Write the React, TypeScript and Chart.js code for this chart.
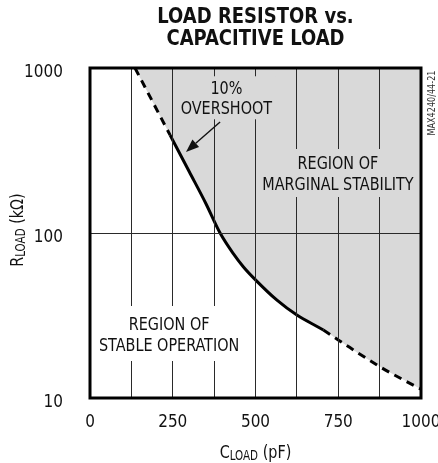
import { useEffect, useRef } from 'react';
import { Chart, registerables } from 'chart.js';

Chart.register(...registerables);

// ---- data ----
const titleLines = ['LOAD RESISTOR vs.', 'CAPACITIVE LOAD'];

// curve: 10% overshoot boundary (C in pF, R in kΩ)
const upperDashedC = [136, 190, 242];
const upperDashedR = [1000, 620, 392];
const solidC = [242, 300, 350, 393, 433, 463, 500, 564, 625, 705];
const solidR = [392, 235, 151, 100, 75, 62.5, 52, 39.3, 31.8, 25.8];
const lowerDashedC = [705, 750, 875, 1000];
const lowerDashedR = [25.8, 22.5, 15.5, 11.3];

const xTickValues = [0, 250, 500, 750, 1000];
const xTickLabels = ['0', '250', '500', '750', '1000'];
const yTickValues = [10, 100, 1000];
const yTickLabels = ['10', '100', '1000'];
const xGridStep = 125;

const overshootLines = ['10%', 'OVERSHOOT'];
const marginalLines = ['REGION OF', 'MARGINAL STABILITY'];
const stableLines = ['REGION OF', 'STABLE OPERATION'];
const sideLabel = 'MAX4240/44-21';

// ---- styles / positions ----
const FONT = '"Liberation Sans Narrow", "DejaVu Sans Condensed", "Arial Narrow", sans-serif';
const FILL = '#d9d9d9';
const INK = '#111';

const annotations = [
  { lines: overshootLines, c: 412, r: 660, gap: 20, maskHalf: 21.5, bg: FILL },
  { lines: marginalLines, c: 749, r: 231, gap: 20.5, maskHalf: 24, bg: FILL },
  { lines: stableLines, c: 239, r: 24.6, gap: 21, maskHalf: 27.5, bg: '#ffffff' },
];
const arrowTail = { c: 393, r: 471 };
const arrowTip = { c: 290, r: 310 };

function drawText(
  ctx: CanvasRenderingContext2D,
  text: string,
  x: number,
  y: number,
  size: number,
  opts: { bold?: boolean; align?: CanvasTextAlign; stretch?: number; rotate?: number } = {}
) {
  const stretch = opts.stretch ?? 1.15;
  ctx.save();
  ctx.translate(x, y);
  if (opts.rotate) ctx.rotate(opts.rotate);
  ctx.scale(1, stretch);
  ctx.font = `${opts.bold ? 'bold ' : ''}${size}px ${FONT}`;
  ctx.textAlign = opts.align ?? 'center';
  ctx.textBaseline = 'alphabetic';
  ctx.fillStyle = INK;
  ctx.fillText(text, 0, 0.358 * size);
  ctx.restore();
}

function drawSubTitle(
  ctx: CanvasRenderingContext2D,
  main: string,
  sub: string,
  rest: string,
  cx: number,
  cy: number,
  rotate: number
) {
  const big = 16;
  const small = 11.5;
  const stretch = 1.15;
  ctx.save();
  ctx.translate(cx, cy);
  if (rotate) ctx.rotate(rotate);
  ctx.scale(1, stretch);
  ctx.fillStyle = INK;
  ctx.textBaseline = 'alphabetic';
  ctx.textAlign = 'left';
  ctx.font = `${big}px ${FONT}`;
  const w1 = ctx.measureText(main).width;
  const w3 = ctx.measureText(rest).width;
  ctx.font = `${small}px ${FONT}`;
  const w2 = ctx.measureText(sub).width;
  const total = w1 + w2 + w3;
  let x = -total / 2;
  const base = 0.358 * big;
  ctx.font = `${big}px ${FONT}`;
  ctx.fillText(main, x, base);
  x += w1;
  ctx.font = `${small}px ${FONT}`;
  ctx.fillText(sub, x, base + 2.5);
  x += w2;
  ctx.font = `${big}px ${FONT}`;
  ctx.fillText(rest, x, base);
  ctx.restore();
}

const decorPlugin = {
  id: 'decor',
  afterDraw(chart: any) {
    const ctx: CanvasRenderingContext2D = chart.ctx;
    const { left, right, top, bottom } = chart.chartArea;
    const xs = chart.scales.x;
    const ys = chart.scales.y;

    // annotation texts with masks over grid lines
    for (const a of annotations) {
      const cx = xs.getPixelForValue(a.c);
      const cy = ys.getPixelForValue(a.r);
      ctx.font = `16px ${FONT}`;
      const w = Math.max(...a.lines.map((l) => ctx.measureText(l).width));
      ctx.fillStyle = a.bg;
      ctx.fillRect(cx - w / 2 - 3, cy - a.maskHalf, w + 6, a.maskHalf * 2);
      a.lines.forEach((l, i) => {
        drawText(ctx, l, cx, cy + (i - (a.lines.length - 1) / 2) * a.gap, 16);
      });
    }

    // arrow
    const tx = xs.getPixelForValue(arrowTail.c);
    const ty = ys.getPixelForValue(arrowTail.r);
    const hx = xs.getPixelForValue(arrowTip.c);
    const hy = ys.getPixelForValue(arrowTip.r);
    const ang = Math.atan2(hy - ty, hx - tx);
    const headLen = 13;
    const headW = 5;
    const bx = hx - headLen * Math.cos(ang);
    const by = hy - headLen * Math.sin(ang);
    ctx.save();
    ctx.strokeStyle = INK;
    ctx.lineWidth = 1.4;
    ctx.beginPath();
    ctx.moveTo(tx, ty);
    ctx.lineTo(bx, by);
    ctx.stroke();
    ctx.fillStyle = INK;
    ctx.beginPath();
    ctx.moveTo(hx, hy);
    ctx.lineTo(bx + headW * Math.sin(ang), by - headW * Math.cos(ang));
    ctx.lineTo(bx - headW * Math.sin(ang), by + headW * Math.cos(ang));
    ctx.closePath();
    ctx.fill();
    ctx.restore();

    // frame
    ctx.save();
    ctx.strokeStyle = '#000';
    ctx.lineWidth = 3;
    ctx.strokeRect(left, top, right - left, bottom - top);
    ctx.restore();

    // tick labels
    xTickValues.forEach((v, i) => {
      drawText(ctx, xTickLabels[i], xs.getPixelForValue(v), bottom + 22, 17, { stretch: 1.08 });
    });
    yTickValues.forEach((v, i) => {
      drawText(ctx, yTickLabels[i], left - 27, ys.getPixelForValue(v) + 2, 17, { stretch: 1.08, align: 'right' });
    });

    // axis titles
    drawSubTitle(ctx, 'C', 'LOAD', ' (pF)', (left + right) / 2, bottom + 53, 0);
    drawSubTitle(ctx, 'R', 'LOAD', ' (kΩ)', 16, (top + bottom) / 2 - 3, -Math.PI / 2);

    // chart title
    const mid = (left + right) / 2;
    drawText(ctx, titleLines[0], mid, 15, 20, { bold: true, stretch: 1.05 });
    drawText(ctx, titleLines[1], mid, 37, 20, { bold: true, stretch: 1.05 });

    // side label
    ctx.save();
    ctx.translate(432, top + 35);
    ctx.rotate(-Math.PI / 2);
    ctx.scale(1, 1.1);
    ctx.font = `9px ${FONT}`;
    ctx.textAlign = 'center';
    ctx.textBaseline = 'middle';
    ctx.fillStyle = '#333';
    ctx.fillText(sideLabel, 0, 0);
    ctx.restore();
  },
};

export default function App() {
  const ref = useRef<HTMLCanvasElement>(null);

  useEffect(() => {
    const canvas = ref.current;
    if (!canvas) return;
    const curveC = [...upperDashedC, ...solidC.slice(1), ...lowerDashedC.slice(1)];
    const curveR = [...upperDashedR, ...solidR.slice(1), ...lowerDashedR.slice(1)];
    const solidStart = upperDashedC.length - 1;
    const solidEnd = solidStart + solidC.length - 1;
    const points = curveC.map((c, i) => ({ x: c, y: curveR[i] }));

    const gridOpts = { color: '#2a2a2a', lineWidth: 1, drawTicks: false, z: 1 };

    const chart = new Chart(canvas, {
      type: 'line',
      data: {
        datasets: [
          {
            data: points,
            borderColor: '#000',
            borderWidth: 3,
            fill: false,
            pointRadius: 0,
            cubicInterpolationMode: 'monotone',
            borderCapStyle: 'butt',
            segment: {
              borderDash: (sc: any) =>
                sc.p0DataIndex < solidStart || sc.p0DataIndex >= solidEnd ? [8, 6] : [],
            },
            order: 0,
          } as any,
          {
            data: points,
            borderWidth: 0,
            borderColor: 'rgba(0,0,0,0)',
            backgroundColor: FILL,
            fill: 'end',
            pointRadius: 0,
            cubicInterpolationMode: 'monotone',
            order: 1,
          } as any,
        ],
      },
      options: {
        animation: false,
        responsive: false,
        devicePixelRatio: 1,
        layout: { padding: { left: 0, top: 68, right: 17, bottom: 0 } },
        plugins: {
          legend: { display: false },
          tooltip: { enabled: false },
          title: { display: false },
        },
        scales: {
          x: {
            type: 'linear',
            min: 0,
            max: 1000,
            ticks: { display: false, stepSize: xGridStep },
            grid: gridOpts,
            border: { display: false },
            afterFit: (s: any) => {
              s.height = 65;
            },
          },
          y: {
            type: 'logarithmic',
            min: 10,
            max: 1000,
            ticks: { display: false },
            afterBuildTicks: (s: any) => {
              s.ticks = yTickValues.map((v) => ({ value: v }));
            },
            grid: gridOpts,
            border: { display: false },
            afterFit: (s: any) => {
              s.width = 90;
            },
          },
        } as any,
      },
      plugins: [decorPlugin],
    });
    return () => chart.destroy();
  }, []);

  return (
    <div style={{ position: 'absolute', left: 0, top: 0, width: 438, height: 463, background: '#fff' }}>
      <canvas ref={ref} width={438} height={463} style={{ display: 'block' }} />
    </div>
  );
}
